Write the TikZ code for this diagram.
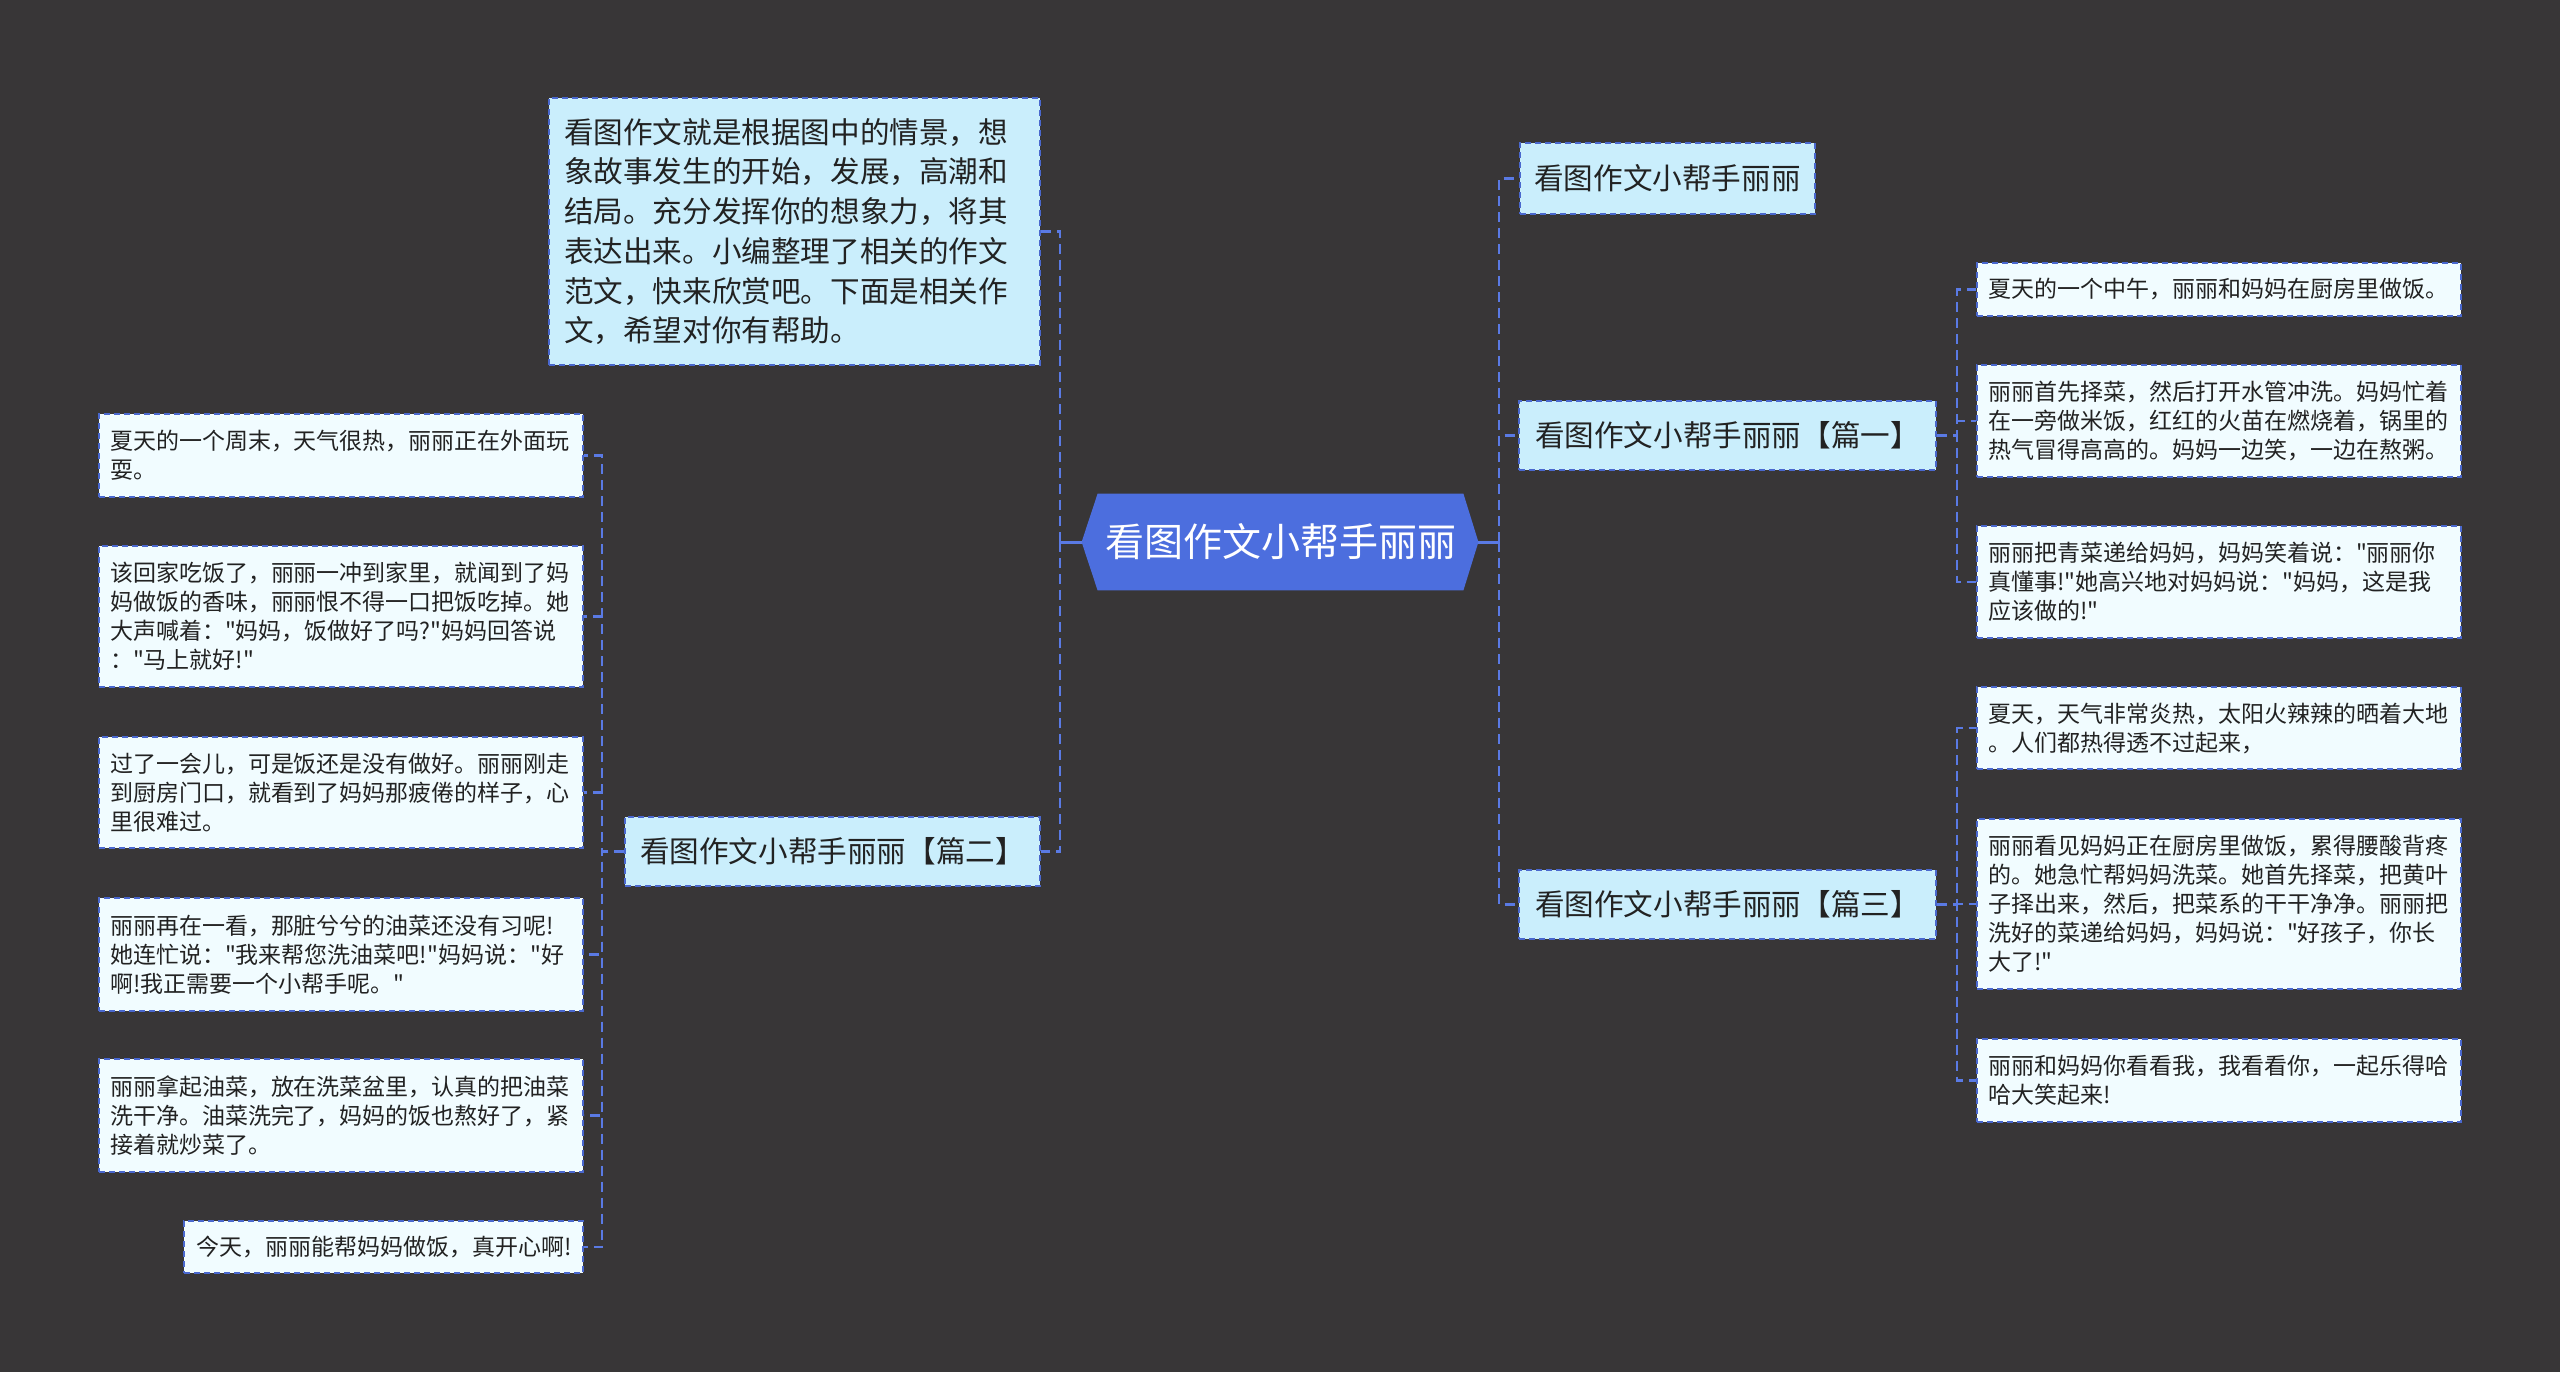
\documentclass[tikz,border=0pt]{standalone}
\usepackage{fontspec}
\setmainfont{Noto Sans CJK SC}[Ligatures=TeXOff]
\usetikzlibrary{backgrounds,calc}
\definecolor{bgc}{RGB}{56,54,55}
\definecolor{rootc}{RGB}{76,110,222}
\definecolor{midc}{RGB}{202,238,252}
\definecolor{leafc}{RGB}{241,252,255}
\definecolor{edgec}{RGB}{74,104,206}
\definecolor{linec}{RGB}{90,122,228}
\definecolor{txtc}{RGB}{34,34,34}
\begin{document}
\begin{tikzpicture}[x=0.5pt,y=-0.5pt,
  boxdash/.style={draw=edgec, line width=1pt, dash pattern=on 3pt off 2pt},
  leafbox/.style={boxdash, fill=leafc, text=txtc, align=left, text width=231pt,
    inner xsep=5.5pt, inner ysep=2pt, font=\fontsize{11.5pt}{14.5pt}\selectfont},
  midbox/.style={boxdash, fill=midc, text=txtc, inner sep=0pt,
    font=\fontsize{14.8pt}{19.85pt}\selectfont, minimum width=208.5pt, minimum height=34.5pt},
  introbox/.style={boxdash, fill=midc, text=txtc, align=left, text width=230.5pt,
    inner xsep=7.5pt, inner ysep=2pt, font=\fontsize{14.8pt}{19.85pt}\selectfont},
  rootnode/.style={text=white, inner sep=0pt, font=\fontsize{19.5pt}{24pt}\selectfont,
    minimum width=182.5pt, minimum height=48pt},
  conn/.style={draw=linec, line width=1.2pt, dash pattern=on 5pt off 3pt},
  rootline/.style={draw=linec, line width=1.5pt}
]
\useasboundingbox (0,0) rectangle (2560,1372);

% root
\node[rootnode] (root) at (1280.5,542) {看图作文小帮手丽丽};
\coordinate (rootL) at ([xshift=-8pt]root.west);
\coordinate (rootR) at ([xshift=7.5pt]root.east);
\coordinate (sL) at (1060,542);
\coordinate (sR) at (1499,542);

% left side
\node[introbox, minimum height=133.5pt] (intro) at (794.5,231.5) {看图作文就是根据图中的情景，想\\象故事发生的开始，发展，高潮和\\结局。充分发挥你的想象力，将其\\表达出来。小编整理了相关的作文\\范文，快来欣赏吧。下面是相关作\\文，希望对你有帮助。};
\node[midbox, minimum width=207.5pt] (p2) at (832.5,851.5) {看图作文小帮手丽丽【篇二】};

\node[leafbox, minimum height=41.5pt] (l1) at (341,455.5) {夏天的一个周末，天气很热，丽丽正在外面玩\\耍。};
\node[leafbox, minimum height=70.5pt] (l2) at (341,616.5) {该回家吃饭了，丽丽一冲到家里，就闻到了妈\\妈做饭的香味，丽丽恨不得一口把饭吃掉。她\\大声喊着："妈妈，饭做好了吗?"妈妈回答说\\："马上就好!"};
\node[leafbox, minimum height=55.5pt] (l3) at (341,792.5) {过了一会儿，可是饭还是没有做好。丽丽刚走\\到厨房门口，就看到了妈妈那疲倦的样子，心\\里很难过。};
\node[leafbox, minimum height=56.5pt] (l4) at (341,954.5) {丽丽再在一看，那脏兮兮的油菜还没有习呢!\\她连忙说："我来帮您洗油菜吧!"妈妈说："好\\啊!我正需要一个小帮手呢。"};
\node[leafbox, minimum height=56.5pt] (l5) at (341,1115.5) {丽丽拿起油菜，放在洗菜盆里，认真的把油菜\\洗干净。油菜洗完了，妈妈的饭也熬好了，紧\\接着就炒菜了。};
\node[leafbox, text width=187.5pt, inner xsep=6pt, minimum height=26pt] (l6) at (383.5,1247) {今天，丽丽能帮妈妈做饭，真开心啊!};

% right side
\node[midbox, minimum width=147.5pt, minimum height=35.5pt] (c1) at (1667.5,178.5) {看图作文小帮手丽丽};
\node[midbox] (c2) at (1727.5,435.5) {看图作文小帮手丽丽【篇一】};
\node[midbox] (c3) at (1727.5,904.5) {看图作文小帮手丽丽【篇三】};

\node[leafbox, minimum height=26.5pt] (r1) at (2219,289.5) {夏天的一个中午，丽丽和妈妈在厨房里做饭。};
\node[leafbox, minimum height=56pt] (r2) at (2219,421) {丽丽首先择菜，然后打开水管冲洗。妈妈忙着\\在一旁做米饭，红红的火苗在燃烧着，锅里的\\热气冒得高高的。妈妈一边笑，一边在熬粥。};
\node[leafbox, minimum height=56pt] (r3) at (2219,582) {丽丽把青菜递给妈妈，妈妈笑着说："丽丽你\\真懂事!"她高兴地对妈妈说："妈妈，这是我\\应该做的!"};
\node[leafbox, minimum height=41pt] (r4) at (2219,728) {夏天，天气非常炎热，太阳火辣辣的晒着大地\\。人们都热得透不过起来，};
\node[leafbox, minimum height=85pt] (r5) at (2219,904) {丽丽看见妈妈正在厨房里做饭，累得腰酸背疼\\的。她急忙帮妈妈洗菜。她首先择菜，把黄叶\\子择出来，然后，把菜系的干干净净。丽丽把\\洗好的菜递给妈妈，妈妈说："好孩子，你长\\大了!"};
\node[leafbox, minimum height=41.5pt] (r6) at (2219,1080.5) {丽丽和妈妈你看看我，我看看你，一起乐得哈\\哈大笑起来!};

% connectors
\draw[rootline] (rootL) -- (sL);
\draw[rootline] (rootR) -- (sR);
\draw[conn] (sL) |- (intro.east);
\draw[conn] (sL) |- (p2.east);
\draw[conn] (sR) |- (c1.west);
\draw[conn] (sR) |- (c2.west);
\draw[conn] (sR) |- (c3.west);

\foreach \n in {l1,l2,l3,l4,l5,l6}
  \draw[conn] (p2.west) -- ++(-11pt,0) |- (\n.east);
\foreach \n in {r1,r2,r3}
  \draw[conn] (c2.east) -- ++(10pt,0) |- (\n.west);
\foreach \n in {r4,r5,r6}
  \draw[conn] (c3.east) -- ++(10pt,0) |- (\n.west);

\begin{pgfonlayer}{background}
  \fill[bgc] (0,0) rectangle (2560,1372);
  \fill[rootc] (root.north west) -- (root.north east) -- (rootR) -- (root.south east)
    -- (root.south west) -- (rootL) -- cycle;
\end{pgfonlayer}
\end{tikzpicture}
\end{document}
